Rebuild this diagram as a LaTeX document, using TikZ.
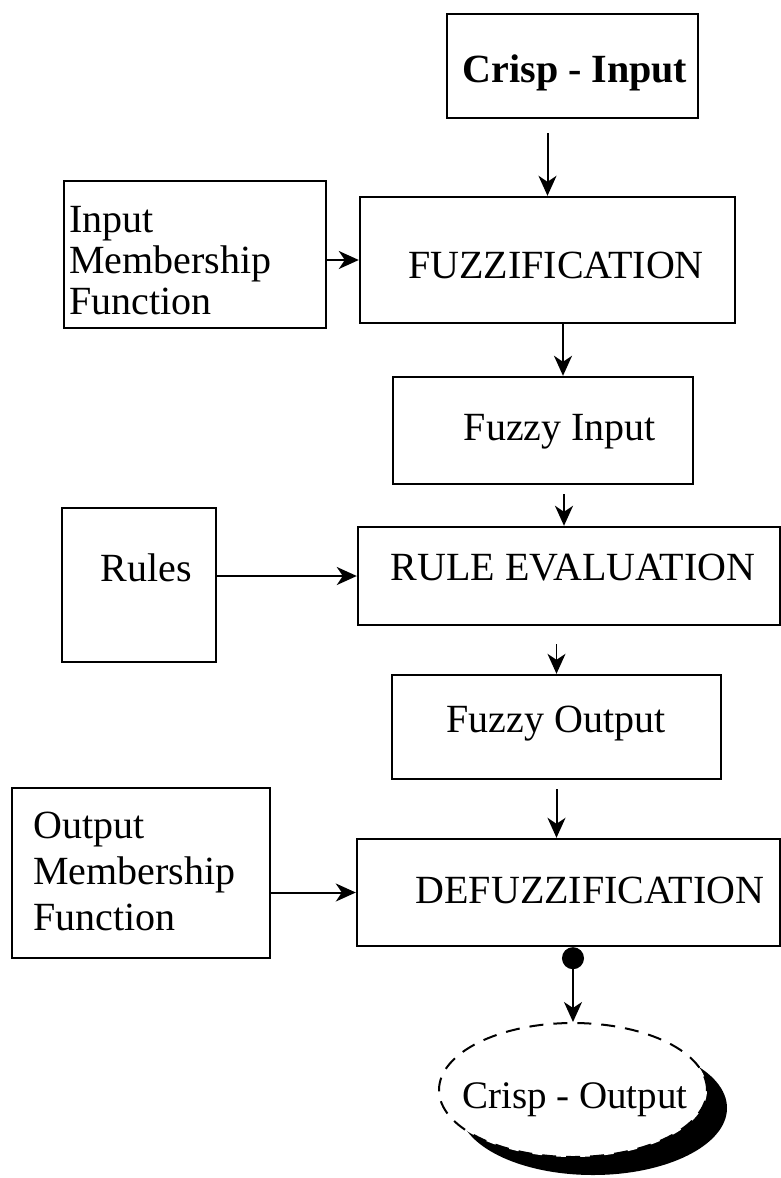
\documentclass[tikz,border=0pt]{standalone}
\usepackage{fontspec}
\setmainfont{Liberation Serif}
\usetikzlibrary{arrows.meta,shapes.geometric,shadows}

\begin{document}
\begin{tikzpicture}[
  x=0.5pt, y=-0.5pt,
  box/.style={
    draw,
    line width=1.2pt,
    inner sep=0pt
  },
  txt/.style={
    font=\fontsize{20}{20.5}\selectfont,
    inner sep=0pt
  },
  flow/.style={
    line width=1pt,
    -{Stealth[length=10pt,width=9pt,inset=3pt]}
  },
  thin flow/.style={
    flow,
    line width=0.7pt
  },
  crisp out/.style={
    ellipse,
    draw,
    line width=1pt,
    dash pattern=on 7pt off 5pt,
    fill=white,
    minimum width=134pt,
    minimum height=67pt,
    inner sep=0pt,
    drop shadow={shadow xshift=10pt, shadow yshift=-9pt, fill=black, opacity=1}
  },
]
\useasboundingbox (0,0) rectangle (781,1178);

% boxes
\node[box, minimum width=125.5pt, minimum height=52pt]   (crispin) at (572.5,66) {};
\node[box, minimum width=131pt,   minimum height=73.5pt] (imf)     at (195,254.5) {};
\node[box, minimum width=187.5pt, minimum height=63pt]   (fuzz)    at (547.5,260) {};
\node[box, minimum width=150pt,   minimum height=53.5pt] (fin)     at (543,430.5) {};
\node[box, minimum width=77pt,    minimum height=77pt]   (rules)   at (139,585) {};
\node[box, minimum width=211pt,   minimum height=49pt]   (reval)   at (569,576) {};
\node[box, minimum width=164.5pt, minimum height=52pt]   (fout)    at (556.5,727) {};
\node[box, minimum width=129pt,   minimum height=85pt]   (omf)     at (141,873) {};
\node[box, minimum width=211.5pt, minimum height=53.5pt] (defuzz)  at (568.5,892.5) {};
\node[crisp out] (cout) at (573,1090) {};

% texts
\node[txt, font=\fontsize{20}{20.5}\selectfont\bfseries] (crispin-t) at (575,73) {Crisp - Input};
\node[txt, anchor=west, align=left] (imf-t) at (69,261) {Input\\Membership\\Function};
\node[txt] (fuzz-t)   at (556,265) {FUZZIFICATION};
\node[txt] (fin-t)    at (560,432) {Fuzzy Input};
\node[txt] (rules-t)  at (146,568) {Rules};
\node[txt] (reval-t)  at (573,568) {RULE EVALUATION};
\node[txt] (fout-t)   at (556,724) {Fuzzy Output};
\node[txt, font=\fontsize{20}{23}\selectfont, anchor=west, align=left] (omf-t) at (33,871) {Output\\Membership\\Function};
\node[txt] (defuzz-t) at (590,890) {DEFUZZIFICATION};
\node[txt, font=\fontsize{19.5}{20}\selectfont] (cout-t) at (575,1100) {Crisp - Output};

% connectors
\draw[flow, shorten <=7pt] (crispin.south -| fuzz.north) -- (fuzz.north);
\draw[flow] (fuzz.west -| imf.east) -- (fuzz.west);
\draw[flow] ([xshift=7.75pt]fuzz.south) -- ([xshift=7.75pt]fuzz.south |- fin.north);
\draw[flow, shorten <=4.5pt] ([xshift=10.5pt]fin.south) -- ([xshift=10.5pt]fin.south |- reval.north);
\draw[flow] (reval.west -| rules.east) -- (reval.west);
\draw[thin flow, shorten <=9pt] (fout.north |- reval.south) -- (fout.north);
\draw[flow, shorten <=4.5pt] (fout.south) -- (fout.south |- defuzz.north);
\draw[flow] (defuzz.west -| omf.east) -- (defuzz.west);
\draw[line width=1pt, {Circle[length=11pt]}-{Stealth[length=10pt,width=9pt,inset=3pt]}] (cout.north |- defuzz.south) -- (cout.north);
\end{tikzpicture}
\end{document}
